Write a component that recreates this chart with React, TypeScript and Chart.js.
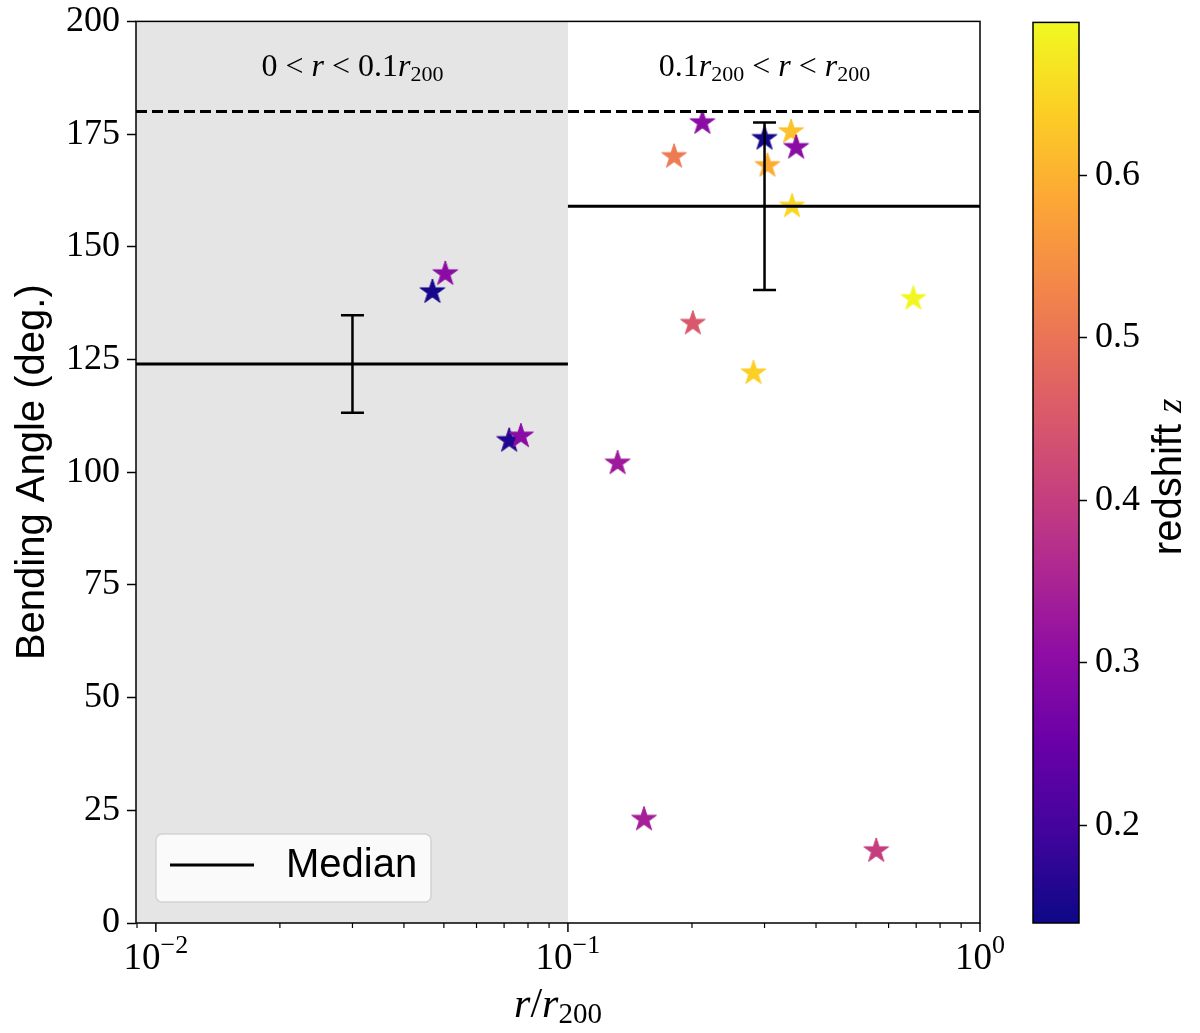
import { useEffect, useRef } from "react";
import { Chart, registerables } from "chart.js";

Chart.register(...registerables);

const SERIF = "'Liberation Serif', 'DejaVu Serif', serif";
const SANS = "'Liberation Sans', Arial, sans-serif";

// axis ranges and ticks
const R_LIMITS = [0.00895, 1];
const X_MAJOR = [0.01, 0.1, 1];
const X_MAJOR_EXP = ["−2", "−1", "0"];
const X_MINOR = [0.009, 0.02, 0.03, 0.04, 0.05, 0.06, 0.07, 0.08, 0.09, 0.2, 0.3, 0.4, 0.5, 0.6, 0.7, 0.8, 0.9];
const ANGLE_LIMITS = [0, 200];
const ANGLE_STEP = 25;

// sources: r / r200, bending angle (deg.), redshift
const R = [0.0469, 0.0504, 0.072, 0.0769, 0.212, 0.181, 0.3, 0.348, 0.358, 0.305, 0.35, 0.689, 0.201, 0.282, 0.132, 0.153, 0.56];
const ANGLE = [140, 144, 107, 108, 177.5, 170, 174, 175.5, 172, 168, 159, 138.5, 133, 122, 102, 23, 16];
const REDSHIFT = [0.15, 0.3, 0.16, 0.3, 0.3, 0.51, 0.15, 0.62, 0.3, 0.59, 0.65, 0.69, 0.45, 0.64, 0.33, 0.34, 0.4];

// median per bin
const BIN_EDGES = [R_LIMITS[0], 0.1, 1];
const MEDIAN = [124, 159];
const MEDIAN_ERR = [10.8, 18.6];
const MEDIAN_AT = [0.03, 0.3];
const STRAIGHT = 180;

// colour bar
const Z_RANGE = [0.14, 0.694];
const Z_TICKS = [0.2, 0.3, 0.4, 0.5, 0.6];

const PLASMA = ["#0d0887", "#41049d", "#6a00a8", "#8f0da4", "#b12a90", "#cc4778", "#e16462", "#f2844b", "#fca636", "#fcce25", "#f0f921"];

function hex(c: string) {
  return [1, 3, 5].map((i) => parseInt(c.slice(i, i + 2), 16));
}

function plasma(t: number) {
  const p = Math.min(Math.max(t, 0), 1) * (PLASMA.length - 1);
  const i = Math.min(Math.floor(p), PLASMA.length - 2);
  const f = p - i;
  const a = hex(PLASMA[i]);
  const b = hex(PLASMA[i + 1]);
  const [r, g, bl] = a.map((v, k) => Math.round(v + (b[k] - v) * f));
  return `rgb(${r},${g},${bl})`;
}

function starSprite(color: string, radius = 13) {
  const size = Math.ceil(radius * 2 + 4);
  const c = document.createElement("canvas");
  c.width = size;
  c.height = size;
  const ctx = c.getContext("2d")!;
  ctx.translate(size / 2, size / 2);
  ctx.beginPath();
  for (let k = 0; k < 10; k++) {
    const rr = k % 2 === 0 ? radius : radius * 0.382;
    const a = -Math.PI / 2 + (k * Math.PI) / 5;
    ctx.lineTo(rr * Math.cos(a), rr * Math.sin(a));
  }
  ctx.closePath();
  ctx.fillStyle = color;
  ctx.fill();
  ctx.lineWidth = 1;
  ctx.strokeStyle = color;
  ctx.stroke();
  return c;
}

type Run = { text: string; font: string; dy?: number };

function drawRuns(ctx: CanvasRenderingContext2D, runs: Run[], x: number, y: number, align = "center") {
  const widths = runs.map((r) => {
    ctx.font = r.font;
    return ctx.measureText(r.text).width;
  });
  const total = widths.reduce((s, w) => s + w, 0);
  let cx = align === "center" ? x - total / 2 : x;
  ctx.textAlign = "left";
  ctx.textBaseline = "alphabetic";
  runs.forEach((r, i) => {
    ctx.font = r.font;
    ctx.fillText(r.text, cx, y + (r.dy ?? 0));
    cx += widths[i];
  });
}

const up = (n: number) => `${n}px ${SERIF}`;
const it = (n: number) => `italic ${n}px ${SERIF}`;

const REGION_LABELS: Run[][] = [
  [
    { text: "0 < ", font: up(32) },
    { text: "r", font: it(32) },
    { text: " < 0.1", font: up(32) },
    { text: "r", font: it(32) },
    { text: "200", font: up(22), dy: 5 },
  ],
  [
    { text: "0.1", font: up(32) },
    { text: "r", font: it(32) },
    { text: "200", font: up(22), dy: 5 },
    { text: " < ", font: up(32) },
    { text: "r", font: it(32) },
    { text: " < ", font: up(32) },
    { text: "r", font: it(32) },
    { text: "200", font: up(22), dy: 5 },
  ],
];
const REGION_LABEL_AT = [
  { x: 0.03, y: 190 },
  { x: 0.3, y: 190 },
];

const decorations = {
  id: "decorations",
  beforeDatasetsDraw(chart: any) {
    const { ctx, chartArea: a, scales } = chart;
    const edge = scales.x.getPixelForValue(BIN_EDGES[1]);
    ctx.save();
    ctx.fillStyle = "#e5e5e5";
    ctx.fillRect(a.left, a.top, edge - a.left, a.bottom - a.top);
    ctx.restore();
  },
  afterDraw(chart: any) {
    const { ctx, chartArea: a, scales } = chart;
    const x = scales.x;
    const y = scales.y;
    ctx.save();
    ctx.fillStyle = "#000";
    ctx.strokeStyle = "#000";

    // region labels
    REGION_LABELS.forEach((runs, i) => {
      const p = REGION_LABEL_AT[i];
      drawRuns(ctx, runs, x.getPixelForValue(p.x), y.getPixelForValue(p.y) + 10);
    });

    // x ticks
    ctx.lineWidth = 1.2;
    X_MINOR.forEach((v) => {
      const px = x.getPixelForValue(v);
      ctx.beginPath();
      ctx.moveTo(px, a.bottom);
      ctx.lineTo(px, a.bottom + 5);
      ctx.stroke();
    });
    ctx.lineWidth = 1.5;
    X_MAJOR.forEach((v, i) => {
      const px = x.getPixelForValue(v);
      ctx.beginPath();
      ctx.moveTo(px, a.bottom);
      ctx.lineTo(px, a.bottom + 9);
      ctx.stroke();
      drawRuns(
        ctx,
        [
          { text: "10", font: up(37) },
          { text: X_MAJOR_EXP[i], font: up(26), dy: -16 },
        ],
        px,
        a.bottom + 46
      );
    });

    // x title
    drawRuns(
      ctx,
      [
        { text: "r", font: it(42) },
        { text: "/", font: up(42) },
        { text: "r", font: it(42) },
        { text: "200", font: up(29), dy: 6 },
      ],
      (a.left + a.right) / 2,
      a.bottom + 94
    );

    // legend
    const lx = a.left + 20;
    const ly = a.bottom - 89;
    ctx.beginPath();
    ctx.roundRect(lx, ly, 275, 68, 6);
    ctx.fillStyle = "rgba(255,255,255,0.8)";
    ctx.fill();
    ctx.lineWidth = 1.5;
    ctx.strokeStyle = "rgba(204,204,204,0.8)";
    ctx.stroke();
    const median = chart.data.datasets[0];
    ctx.strokeStyle = median.borderColor;
    ctx.lineWidth = median.borderWidth;
    ctx.beginPath();
    ctx.moveTo(lx + 14, ly + 31);
    ctx.lineTo(lx + 98, ly + 31);
    ctx.stroke();
    ctx.fillStyle = "#000";
    ctx.font = `40px ${SANS}`;
    ctx.textBaseline = "middle";
    ctx.fillText(median.label, lx + 130, ly + 32);

    // frame
    ctx.lineWidth = 1.5;
    ctx.strokeStyle = "#000";
    ctx.strokeRect(a.left, a.top, a.right - a.left, a.bottom - a.top);
    ctx.restore();
  },
};

const colorbarFrame = {
  id: "colorbarFrame",
  afterDraw(chart: any) {
    const { ctx, chartArea: a } = chart;
    ctx.save();
    ctx.lineWidth = 1.5;
    ctx.strokeStyle = "#000";
    ctx.strokeRect(a.left, a.top, a.right - a.left, a.bottom - a.top);
    ctx.fillStyle = "#000";
    ctx.translate(167, 477);
    ctx.rotate(-Math.PI / 2);
    drawRuns(
      ctx,
      [
        { text: "redshift ", font: `40px ${SANS}` },
        { text: "z", font: it(36) },
      ],
      0,
      14
    );
    ctx.restore();
  },
};

export default function App() {
  const mainRef = useRef<HTMLCanvasElement>(null);
  const barRef = useRef<HTMLCanvasElement>(null);

  useEffect(() => {
    const norm = (z: number) => (z - Z_RANGE[0]) / (Z_RANGE[1] - Z_RANGE[0]);
    const stars = REDSHIFT.map((z) => starSprite(plasma(norm(z))));
    const line = { showLine: true, borderColor: "#000", borderWidth: 3, pointRadius: 0, order: 1 };

    const main = new Chart(mainRef.current!, {
      type: "scatter",
      data: {
        datasets: [
          {
            ...line,
            label: "Median",
            data: [
              { x: BIN_EDGES[0], y: MEDIAN[0] },
              { x: BIN_EDGES[1], y: MEDIAN[0] },
            ],
          },
          {
            ...line,
            label: "Median",
            data: [
              { x: BIN_EDGES[1], y: MEDIAN[1] },
              { x: BIN_EDGES[2], y: MEDIAN[1] },
            ],
          },
          {
            ...line,
            label: "Straight",
            borderDash: [11, 5],
            data: [
              { x: R_LIMITS[0], y: STRAIGHT },
              { x: R_LIMITS[1], y: STRAIGHT },
            ],
          },
          ...MEDIAN_AT.map((x, i) => ({
            ...line,
            label: "Error",
            borderWidth: 2.5,
            pointStyle: "line" as const,
            pointRadius: 11.5,
            pointBorderWidth: 2.5,
            pointBorderColor: "#000",
            data: [
              { x, y: MEDIAN[i] - MEDIAN_ERR[i] },
              { x, y: MEDIAN[i] + MEDIAN_ERR[i] },
            ],
          })),
          {
            label: "Sources",
            data: R.map((x, i) => ({ x, y: ANGLE[i] })),
            pointStyle: stars,
            pointRadius: 13,
            order: 5,
          },
        ],
      },
      options: {
        animation: false,
        responsive: true,
        maintainAspectRatio: false,
        events: [],
        layout: { padding: { top: 21, right: 40, left: 0, bottom: 0 } },
        plugins: { legend: { display: false }, tooltip: { enabled: false } },
        scales: {
          x: {
            type: "logarithmic",
            min: R_LIMITS[0],
            max: R_LIMITS[1],
            ticks: { display: false },
            grid: { display: false },
            border: { display: false },
            afterFit: (s: any) => {
              s.height = 110;
            },
          },
          y: {
            min: ANGLE_LIMITS[0],
            max: ANGLE_LIMITS[1],
            ticks: {
              stepSize: ANGLE_STEP,
              color: "#000",
              padding: 7,
              font: { family: SERIF, size: 36, lineHeight: 0.8 },
            },
            grid: { drawOnChartArea: false, tickLength: 9, color: "#000", tickWidth: 1.5 },
            border: { display: false },
            title: {
              display: true,
              text: "Bending Angle (deg.)",
              color: "#000",
              font: { family: SANS, size: 40 },
              padding: { top: 9, bottom: 0 },
            },
            afterFit: (s: any) => {
              s.width = 136;
            },
          },
        },
      },
      plugins: [decorations],
    });

    const bar = new Chart(barRef.current!, {
      type: "bar",
      data: {
        labels: ["z"],
        datasets: [
          {
            label: "redshift",
            data: [[Z_RANGE[0], Z_RANGE[1]]] as any,
            barPercentage: 1,
            categoryPercentage: 1,
            borderWidth: 0,
            backgroundColor: (c: any) => {
              const a = c.chart.chartArea;
              if (!a) return PLASMA[0];
              const g = c.chart.ctx.createLinearGradient(0, a.bottom, 0, a.top);
              PLASMA.forEach((col, i) => g.addColorStop(i / (PLASMA.length - 1), col));
              return g;
            },
          },
        ],
      },
      options: {
        animation: false,
        responsive: true,
        maintainAspectRatio: false,
        events: [],
        layout: { padding: { top: 21, left: 33, right: 0, bottom: 110 } },
        plugins: { legend: { display: false }, tooltip: { enabled: false } },
        scales: {
          x: { display: false },
          y: {
            position: "right",
            min: Z_RANGE[0],
            max: Z_RANGE[1],
            afterBuildTicks: (s: any) => {
              s.ticks = Z_TICKS.map((value) => ({ value }));
            },
            ticks: {
              color: "#000",
              padding: 8,
              font: { family: SERIF, size: 36, lineHeight: 0.8 },
              callback: (v: any) => Number(v).toFixed(1),
            },
            grid: { drawOnChartArea: false, tickLength: 8, color: "#000", tickWidth: 1.5 },
            border: { display: false },
            afterFit: (s: any) => {
              s.width = 121;
            },
          },
        },
      },
      plugins: [colorbarFrame],
    });

    return () => {
      main.destroy();
      bar.destroy();
    };
  }, []);

  return (
    <div style={{ position: "absolute", left: 0, top: 0, width: 1200, height: 1033, background: "#fff" }}>
      <div style={{ position: "absolute", left: 0, top: 0, width: 1020, height: 1033 }}>
        <canvas ref={mainRef} />
      </div>
      <div style={{ position: "absolute", left: 1000, top: 0, width: 200, height: 1033 }}>
        <canvas ref={barRef} />
      </div>
    </div>
  );
}
